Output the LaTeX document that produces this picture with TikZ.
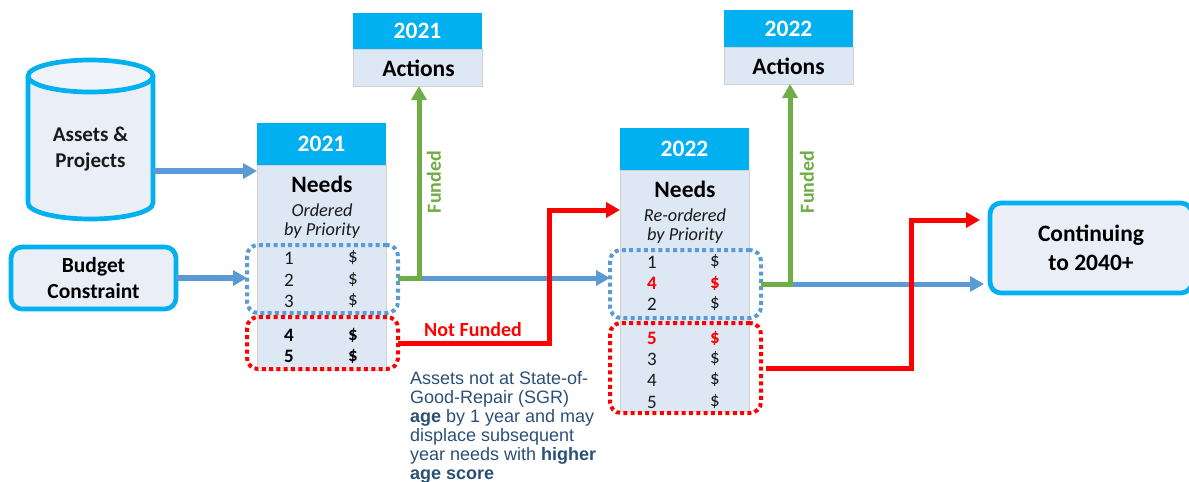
\documentclass[tikz,border=0pt]{standalone}
\usepackage{fontspec}
\setmainfont{Carlito}
\newfontfamily\arialfont{Liberation Sans}
\usetikzlibrary{arrows.meta}
\definecolor{cy}{HTML}{00B0F0}
\definecolor{bodyblue}{HTML}{DEE8F5}
\definecolor{paleblue}{HTML}{E9EEF7}
\definecolor{linkblue}{HTML}{5B9BD5}
\definecolor{linkgreen}{HTML}{70AD47}
\definecolor{notered}{HTML}{FF0000}
\definecolor{inkblue}{HTML}{2B5078}
\tikzset{
  x=1pt,y=-1pt,
  every node/.style={inner sep=0pt,outer sep=0pt},
  hdr/.style={fill=cy,text=white,font=\fontsize{23.5}{26}\selectfont\bfseries,minimum width=129pt,anchor=north west},
  bodybox/.style={fill=bodyblue,draw=black!18,line width=.6pt,minimum width=129pt,anchor=north west},
  title/.style={font=\fontsize{23.5}{26}\selectfont\bfseries,text=black},
  sub/.style={font=\fontsize{18.3}{21}\selectfont\itshape,text=black!90},
  cell/.style={font=\fontsize{19}{21}\selectfont,text=black!90},
  bcell/.style={font=\fontsize{19}{21}\selectfont\bfseries,text=black},
  rcell/.style={font=\fontsize{19}{21}\selectfont\bfseries,text=notered},
  dotblue/.style={draw=linkblue,line width=4pt,dash pattern=on 4pt off 3.3pt,rounded corners=11pt,minimum width=151pt,anchor=north west},
  dotred/.style={draw=notered,line width=4pt,dash pattern=on 4pt off 3.3pt,rounded corners=11pt,minimum width=151pt,anchor=north west},
  sidebox/.style={draw=cy,fill=paleblue,line width=4.7pt,rounded corners=11pt,align=center,text=black,anchor=north west},
  tipped/.style={-{Triangle[length=14pt,width=15pt]}},
  bluelink/.style={draw=linkblue,line width=5pt},
  widelink/.style={draw=linkblue,line width=6pt},
  greenlink/.style={draw=linkgreen,line width=5pt},
  redlink/.style={draw=notered,line width=5pt},
  lab/.style={font=\fontsize{20}{22}\selectfont\bfseries},
}
\begin{document}
\begin{tikzpicture}
\useasboundingbox (0,0) rectangle (1189,482);
% cylinder
\draw[draw=cy,fill=paleblue,line width=4.7pt] (28,76) -- (28,203) arc[start angle=180,end angle=0,x radius=62.5,y radius=16] -- (153,76);
\draw[draw=cy,fill=paleblue!70!white,line width=4.7pt] (90.5,76) ellipse[x radius=62.5,y radius=16];
\node[minimum width=125pt,minimum height=147pt,anchor=north west,align=center,font=\fontsize{21}{26}\selectfont\bfseries,text=black!90] (assets) at (28,76) {Assets \&\\Projects};
% budget
\node[sidebox,minimum width=165pt,minimum height=62pt,font=\fontsize{21.5}{26}\selectfont\bfseries] (budget) at (11,247) {Budget\\Constraint};
% continuing
\node[sidebox,minimum width=202pt,minimum height=90pt,font=\fontsize{23.5}{29}\selectfont\bfseries] (cont) at (990,203) {Continuing\\to 2040+};
% actions 2021
\node[bodybox,minimum height=37pt] (act21b) at (353,49) {};
\node[hdr,minimum height=36pt] (act21h) at (353,13) {2021};
\node[title] (act21t) at (418.5,68) {Actions};
% actions 2022
\node[bodybox,minimum height=37pt] (act22b) at (724,47) {};
\node[hdr,minimum height=37pt] (act22h) at (724,10) {2022};
\node[title] (act22t) at (788.5,66) {Actions};
% needs 2021
\node[bodybox,minimum height=205pt] (n21b) at (257,165) {};
\node[hdr,minimum height=42pt] (n21h) at (257,123) {2021};
\node[title] (n21t) at (322,184) {Needs};
\node[sub] (n21s1) at (322,210) {Ordered};
\node[sub] (n21s2) at (322,231) {by Priority};
\node[cell] (a1) at (289,258) {1}; \node[cell] (a1d) at (353,258) {\$};
\node[cell] (a2) at (289,280) {2}; \node[cell] (a2d) at (353,280) {\$};
\node[cell] (a3) at (289,301) {3}; \node[cell] (a3d) at (353,301) {\$};
\node[bcell] (a4) at (289,335) {4}; \node[bcell] (a4d) at (353,335) {\$};
\node[bcell] (a5) at (289,356) {5}; \node[bcell] (a5d) at (353,356) {\$};
% needs 2022
\node[bodybox,minimum height=241pt] (n22b) at (620,170) {};
\node[hdr,minimum height=42pt] (n22h) at (620,128) {2022};
\node[title] (n22t) at (685,189) {Needs};
\node[sub] (n22s1) at (685,215) {Re-ordered};
\node[sub] (n22s2) at (685,236) {by Priority};
\node[cell] (b1) at (652,262) {1}; \node[cell] (b1d) at (715,262) {\$};
\node[rcell] (b2) at (652,283) {4}; \node[rcell] (b2d) at (715,283) {\$};
\node[cell] (b3) at (652,304) {2}; \node[cell] (b3d) at (715,304) {\$};
\node[rcell] (b4) at (652,338) {5}; \node[rcell] (b4d) at (715,338) {\$};
\node[cell] (b5) at (652,359) {3}; \node[cell] (b5d) at (715,359) {\$};
\node[cell] (b6) at (652,380) {4}; \node[cell] (b6d) at (715,380) {\$};
\node[cell] (b7) at (652,402) {5}; \node[cell] (b7d) at (715,402) {\$};
% dotted groups
\node[dotblue,minimum height=68pt] (fund21) at (247,245) {};
\node[dotred,minimum height=52pt] (unf21) at (247,317) {};
\node[dotblue,minimum height=68pt] (fund22) at (610,250) {};
\node[dotred,minimum height=90pt] (unf22) at (610,323) {};
% junctions
\coordinate (j21g) at (419,278);
\coordinate (j22g) at (790,284);
\coordinate (r21a) at (549,343);
\coordinate (r21b) at (549,210);
\coordinate (r22s) at (766,368);
\coordinate (r22a) at (911,368);
\coordinate (r22b) at (911,220);
% connectors
\draw[widelink,tipped] ([yshift=-21.5pt]assets.east) -- ([yshift=-21.5pt]assets.east -| n21b.west);
\draw[widelink,tipped] (budget.east) -- (fund21.west |- budget.east);
\draw[bluelink,tipped] (j21g) -- (fund22.west |- j21g);
\draw[greenlink,tipped] (fund21.east |- j21g) -- (j21g) -- (j21g |- act21b.south);
\draw[redlink,tipped] (unf21.east |- r21a) -- (r21a) -- (r21b) -- (n22b.west |- r21b);
\draw[bluelink,tipped] ([xshift=3pt]j22g) -- ([xshift=-6pt]cont.west |- j22g);
\draw[greenlink,tipped] (fund22.east |- j22g) -- (j22g) -- (j22g |- act22b.south);
\draw[redlink,tipped] (r22s) -- (r22a) -- (r22b) -- ([xshift=-10pt]cont.west |- r22b);
% labels
\node[lab,text=linkgreen,rotate=90] (fun21) at (434,182) {Funded};
\node[lab,text=linkgreen,rotate=90] (fun22) at (807,182) {Funded};
\node[lab,text=notered] (nf) at (473,330) {Not Funded};
\node[anchor=north west,align=left,text=inkblue,font=\arialfont\fontsize{18}{19.1}\selectfont] (note) at (410,371) {Assets not at State-of-\\Good-Repair (SGR)\\\textbf{age} by 1 year and may\\displace subsequent\\year needs with \textbf{higher}\\\textbf{age score}};
\end{tikzpicture}
\end{document}
